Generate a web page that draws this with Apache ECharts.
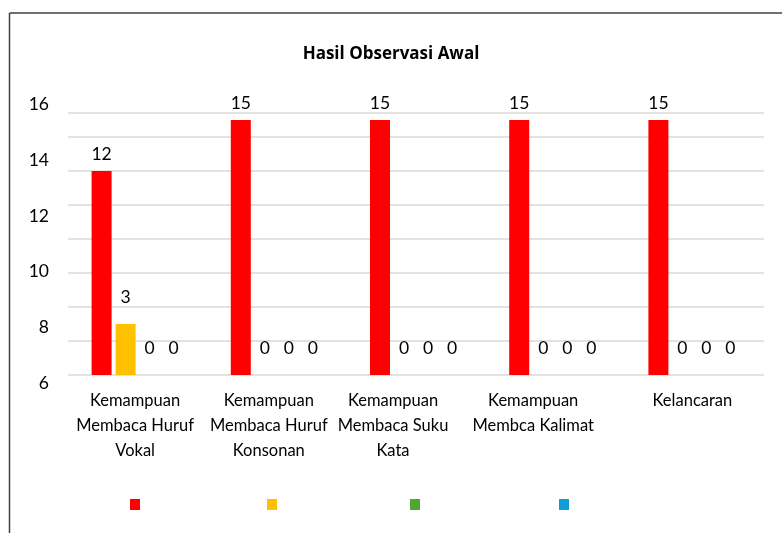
<!DOCTYPE html>
<html>
<head>
<meta charset="utf-8">
<script src="https://cdn.jsdelivr.net/npm/echarts@6/dist/echarts.min.js"></script>
<style>html,body{margin:0;padding:0;background:#fff}#c{width:782px;height:533px}</style>
</head>
<body>
<div id="c"></div>
<script>
const title = 'Hasil Observasi Awal';
const categories = [
  'Kemampuan\nMembaca Huruf\nVokal',
  'Kemampuan\nMembaca Huruf\nKonsonan',
  'Kemampuan\nMembaca Suku\nKata',
  'Kemampuan\nMembca Kalimat',
  'Kelancaran'
];
const seriesNames = ['Seri 1', 'Seri 2', 'Seri 3', 'Seri 4'];
const seriesRed = [12, 15, 15, 15, 15];
const seriesYellow = [3, 0, 0, 0, 0];
const seriesGreen = [0, 0, 0, 0, 0];
const seriesBlue = [0, 0, 0, 0, 0];
const yTickLabels = [6, 8, 10, 12, 14, 16];
const colors = ['#FF0000', '#FFC000', '#4EA72E', '#0F9ED5'];
const catLabelShift = [5, 16, 46, 44, 4];

const FONT = 'Lato';
const chart = echarts.init(document.getElementById('c'), null, {renderer: 'canvas'});
const allSeries = [seriesRed, seriesYellow, seriesGreen, seriesBlue];

const option = {
  animation: false,
  textStyle: {fontFamily: FONT},
  title: {
    text: title, left: 'center', top: 41,
    textStyle: {fontFamily: 'Open Sans', fontWeight: 'bold', fontSize: 17, color: '#000'}
  },
  legend: seriesNames.map((n, i) => ({
    data: [n], left: [130, 267, 410, 559][i], top: 499,
    itemWidth: 10, itemHeight: 11, icon: 'rect',
    formatter: () => '', selectedMode: false, padding: 0, itemGap: 0
  })),
  grid: [
    {left: 68, right: 18, top: 113, bottom: 158},
    {left: 57, right: 700, top: 104.5, bottom: 150}
  ],
  xAxis: [
    {
      type: 'category', gridIndex: 0,
      data: categories.map((c, i) => ({value: c, textStyle: {padding: [0, catLabelShift[i], 0, 0]}})),
      axisLine: {show: false}, axisTick: {show: false},
      axisLabel: {interval: 0, fontFamily: FONT, fontSize: 16.5, color: '#000', lineHeight: 25, margin: 13}
    },
    {type: 'value', gridIndex: 1, show: false}
  ],
  yAxis: [
    {
      type: 'value', gridIndex: 0, min: 0, max: 15.41, interval: 2,
      axisLabel: {show: false}, axisLine: {show: false}, axisTick: {show: false},
      splitLine: {lineStyle: {color: '#d9d9d9', width: 1.5}}
    },
    {
      type: 'value', gridIndex: 1,
      min: yTickLabels[0], max: yTickLabels[yTickLabels.length - 1], interval: yTickLabels[1] - yTickLabels[0],
      axisLine: {show: false}, axisTick: {show: false}, splitLine: {show: false},
      axisLabel: {fontFamily: FONT, fontSize: 17.5, color: '#000', margin: 8}
    }
  ],
  series: allSeries.map((d, i) => ({
    type: 'bar', name: seriesNames[i], data: d,
    xAxisIndex: 0, yAxisIndex: 0,
    barWidth: 20, barGap: '20%',
    itemStyle: {color: colors[i]},
    label: {
      show: true, position: 'top', distance: i === 0 ? 8 : 18,
      fontFamily: FONT, fontSize: 17.5, color: '#000'
    }
  })),
  graphic: [
    {type: 'line', shape: {x1: 9.5, y1: 13, x2: 782, y2: 13}, style: {stroke: '#404040', lineWidth: 1.5}, silent: true},
    {type: 'line', shape: {x1: 9.5, y1: 13, x2: 9.5, y2: 533}, style: {stroke: '#404040', lineWidth: 1.5}, silent: true}
  ]
};
chart.setOption(option);
</script>
</body>
</html>
